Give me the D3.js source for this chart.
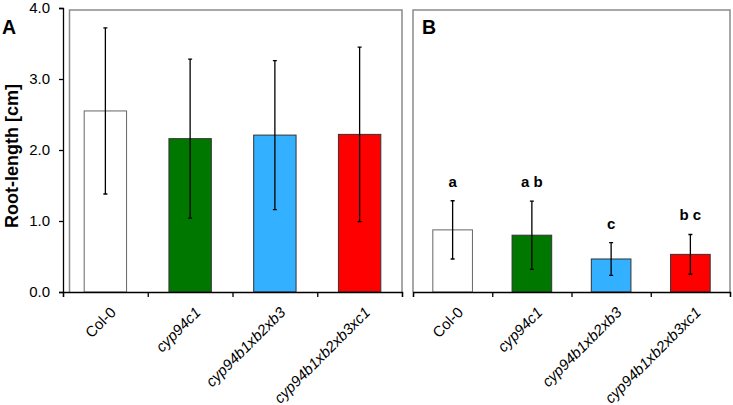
<!DOCTYPE html>
<html><head><meta charset="utf-8">
<script src="https://cdn.jsdelivr.net/npm/d3@7"></script>
<style>body{margin:0;background:#fff}svg{display:block}text{font-family:"Liberation Sans",Arial,sans-serif}</style>
</head><body>
<svg id="c" width="733" height="405"></svg>
<script>
const categories = ["Col-0","cyp94c1","cyp94b1xb2xb3","cyp94b1xb2xb3xc1"];
const italicCat = [false,true,true,true];
const colors = ["#ffffff","#007800","#33b0ff","#ff0000"];
const meansA = [2.55,2.16,2.21,2.22];
const errA   = [1.17,1.12,1.05,1.23];
const meansB = [0.875,0.80,0.465,0.53];
const errB   = [0.41,0.48,0.23,0.28];
const lettersB = ["a","a b","c","b c"];
const yTicks = [0,1,2,3,4];

const svg = d3.select("#c");
const y = d3.scaleLinear().domain([0,4]).range([292,8]);

function panel(x0, x1, frameLeft, means, errs, label, letters, showY){
  const g = svg.append("g");
  const band = d3.scaleBand().domain(categories).range([x0,x1]).paddingInner(0.5).paddingOuter(0.25);
  const bnd = d3.scaleLinear().domain([0,categories.length]).range([x0,x1]);
  g.append("path").attr("d",`M${frameLeft},292V10H${x1}V292`).attr("fill","none").attr("stroke","#8a8a8a").attr("stroke-width",1.5);
  g.selectAll("rect.bar").data(categories).join("rect")
    .attr("x",d=>band(d)).attr("width",band.bandwidth())
    .attr("y",(d,i)=>y(means[i])).attr("height",(d,i)=>y(0)-y(means[i]))
    .attr("fill",(d,i)=>colors[i]).attr("stroke",(d,i)=>i===0?"#666":"#333").attr("stroke-width",1);
  const cx = d=>band(d)+band.bandwidth()/2;
  g.selectAll("path.err").data(categories).join("path")
    .attr("d",(d,i)=>{const c=cx(d),t=y(means[i]+errs[i]),b=y(means[i]-errs[i]);return `M${c},${t}V${b}M${c-2},${t}H${c+2}M${c-2},${b}H${c+2}`;})
    .attr("stroke","#000").attr("stroke-width",1.3).attr("fill","none");
  if(letters){
    g.selectAll("text.let").data(categories).join("text")
      .attr("x",d=>cx(d)).attr("y",(d,i)=>y(means[i]+errs[i])-14)
      .attr("text-anchor","middle").attr("font-size",15).attr("font-weight","bold").text((d,i)=>letters[i]);
  }
  const xa = g.append("g").attr("transform","translate(0,292)")
    .call(d3.axisBottom(bnd).tickValues(d3.range(categories.length+1)).tickSize(5).tickFormat(""));
  xa.select(".domain").attr("stroke","#000").attr("stroke-width",1.3);
  xa.selectAll(".tick line").attr("stroke","#000").attr("stroke-width",1.3);
  g.selectAll("text.cat").data(categories).join("text")
    .attr("transform",d=>`translate(${cx(d)+4},306) rotate(-45)`)
    .attr("text-anchor","end").attr("dy","0.7em").attr("font-size",15)
    .attr("font-style",(d,i)=>italicCat[i]?"italic":"normal").text(d=>d);
  g.append("text").attr("x",label==="A"?2:422).attr("y",34).attr("font-size",19.5).attr("font-weight","bold").text(label);
  if(showY){
    const ya = g.append("g").attr("transform",`translate(${x0},0)`)
      .call(d3.axisLeft(y).tickValues(yTicks).tickSize(4).tickPadding(9).tickFormat(d3.format(".1f")));
    ya.select(".domain").attr("stroke","#000").attr("stroke-width",1.3);
    ya.selectAll(".tick line").attr("stroke","#000").attr("stroke-width",1.3);
    ya.selectAll(".tick text").attr("font-size",15).attr("fill","#000").attr("font-family","Liberation Sans, Arial, sans-serif");
    g.append("text").attr("transform","translate(18,156) rotate(-90)").attr("text-anchor","middle")
      .attr("font-size",18).attr("font-weight","bold").text("Root-length [cm]");
  }
}
panel(63,402,69.5,meansA,errA,"A",null,true);
panel(413,730,413,meansB,errB,"B",lettersB,false);
</script></body></html>
